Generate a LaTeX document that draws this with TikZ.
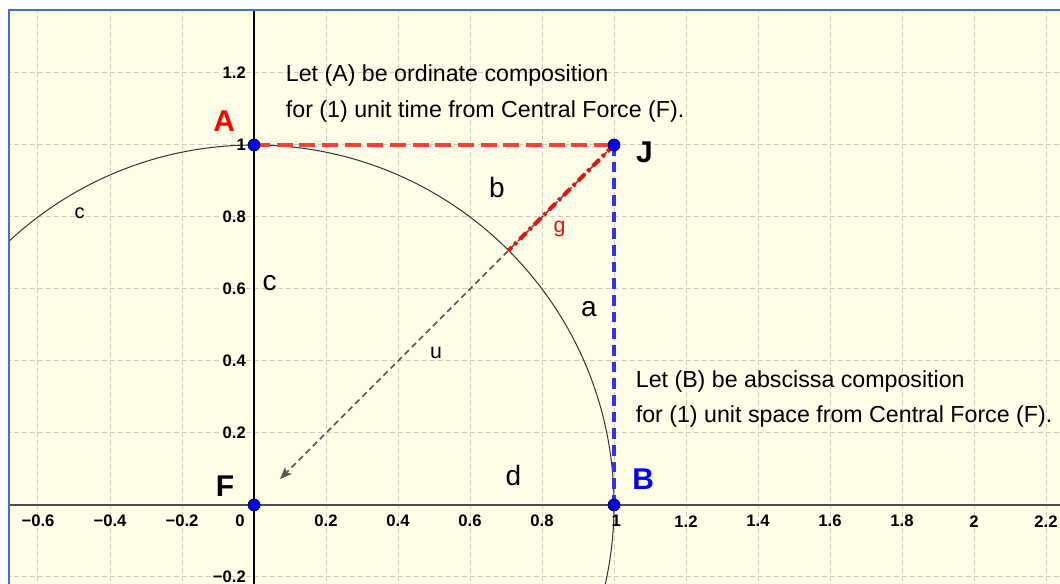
\documentclass[tikz,border=0pt]{standalone}
\usepackage{fontspec}
\setmainfont{Liberation Sans}
\usetikzlibrary{arrows.meta}
\definecolor{bg}{RGB}{254,253,232}
\definecolor{gridc}{RGB}{214,200,186}
\definecolor{framec}{RGB}{68,114,196}
\definecolor{ptblue}{RGB}{0,0,255}
\definecolor{lred}{RGB}{255,60,60}
\definecolor{lblue}{RGB}{50,50,235}
\definecolor{gred}{RGB}{235,15,15}
\definecolor{ugray}{RGB}{85,85,85}
\definecolor{circc}{RGB}{50,50,50}
\begin{document}
\begin{tikzpicture}[x=270pt,y=270pt,
  gridline/.style={gridc, line width=0.75pt, dash pattern=on 3.5pt off 2.5pt},
  tick/.style={inner sep=0pt, font=\fontsize{12.5}{14}\selectfont\bfseries},
  ptnode/.style={circle, fill=ptblue, draw=black, line width=0.5pt, minimum size=9pt, inner sep=0pt},
  bigl/.style={inner sep=0pt, font=\fontsize{22.5}{26}\selectfont\bfseries},
  segl/.style={inner sep=0pt, font=\fontsize{21}{24}\selectfont},
  smalll/.style={inner sep=0pt, font=\fontsize{16}{19}\selectfont},
  note/.style={inner sep=0pt, anchor=base west, font=\fontsize{17.4}{20}\selectfont},
  adline/.style={lred, line width=3pt, dash pattern=on 12pt off 5pt},
  bdline/.style={lblue, line width=3pt, dash pattern=on 8pt off 4.5pt},
  gline/.style={gred, line width=3pt, dash pattern=on 7pt off 3pt on 2.5pt off 3pt},
  uline/.style={ugray, line width=1.1pt, dash pattern=on 4.5pt off 3pt, -{Stealth[length=9pt,width=7pt,inset=2pt]}}
]
\useasboundingbox (-0.70556,-0.21944) rectangle (2.23889,1.40278);
\fill[white] (-0.70556,-0.21944) rectangle (2.23889,1.40278);
\fill[bg] (-0.6806,-0.21944) rectangle (2.23889,1.375);
\begin{scope}
  \clip (-0.6806,-0.21944) rectangle (2.23889,1.375);
  \foreach \x in {-0.6,-0.4,-0.2,0.2,0.4,0.6,0.8,1,1.2,1.4,1.6,1.8,2,2.2}
    \draw[gridline] (\x,-0.3) -- (\x,1.45);
  \foreach \y in {-0.2,0.2,0.4,0.6,0.8,1,1.2}
    \draw[gridline] (-0.8,\y) -- (2.3,\y);
  \draw[black!70, line width=1.1pt] (-0.8,0) -- (2.3,0);
  \draw[black, line width=1.2pt] (0,-0.3) -- (0,1.45);
  \draw[circc, line width=0.75pt] (0,0) circle[radius=1];
  % tick labels
  \foreach \x/\t [count=\i] in {-0.6/−0.6,-0.4/−0.4,-0.2/−0.2,-0.039/0,0.2/0.2,0.4/0.4,0.6/0.6,0.8/0.8,1.006/1,1.2/1.2,1.4/1.4,1.6/1.6,1.8/1.8,2/2,2.2/2.2}
    \node[tick] (xt\i) at (\x,-0.045) {\t};
  \foreach \y/\t [count=\i] in {1.2/1.2,1/1,0.8/0.8,0.6/0.6,0.4/0.4,0.2/0.2,-0.2/−0.2}
    \node[tick, anchor=east] (yt\i) at (-0.022,\y) {\t};
\end{scope}
\draw[framec, line width=1.7pt] (-0.6806,-0.21944) -- (-0.6806,1.375) -- (2.25,1.375);

% points
\coordinate (A) at (0,1);
\coordinate (J) at (1,1);
\coordinate (B) at (1,0);
\coordinate (F) at (0,0);
\coordinate (G) at (0.70711,0.70711);
\coordinate (U) at (0.072,0.072);

\draw[uline] (J) -- (U);
\draw[adline] (A) -- (J);
\draw[bdline] (J) -- (B);
\draw[gline] (J) -- (G);

\node[ptnode] (Ap) at (A) {};
\node[ptnode] (Jp) at (J) {};
\node[ptnode] (Bp) at (B) {};
\node[ptnode] (Fp) at (F) {};

% labels
\node[bigl, text=red] (lA) at (-0.083,1.067) {A};
\node[bigl] (lJ) at (1.0847,0.981) {J};
\node[bigl, text=ptblue] (lB) at (1.081,0.0708) {B};
\node[bigl] (lF) at (-0.0806,0.0528) {F};
\node[segl] (lb) at (0.675,0.881) {b};
\node[segl] (la) at (0.9306,0.5444) {a};
\node[segl] (ld) at (0.7208,0.0833) {d};
\node[segl] (lc) at (0.0431,0.6153) {c};
\node[inner sep=0pt, font=\fontsize{15}{18}\selectfont] (lcc) at (-0.4847,0.811) {c};
\node[smalll] (lu) at (0.506,0.422) {u};
\node[smalll, text=gred] (lg) at (0.8486,0.7667) {g};

\node[note] (t1) at (0.088,1.175) {Let (A) be ordinate composition};
\node[note] (t2) at (0.088,1.075) {for (1) unit time from Central Force (F).};
\node[note] (t3) at (1.060,0.325) {Let (B) be abscissa composition};
\node[note] (t4) at (1.060,0.228) {for (1) unit space from Central Force (F).};
\end{tikzpicture}
\end{document}
